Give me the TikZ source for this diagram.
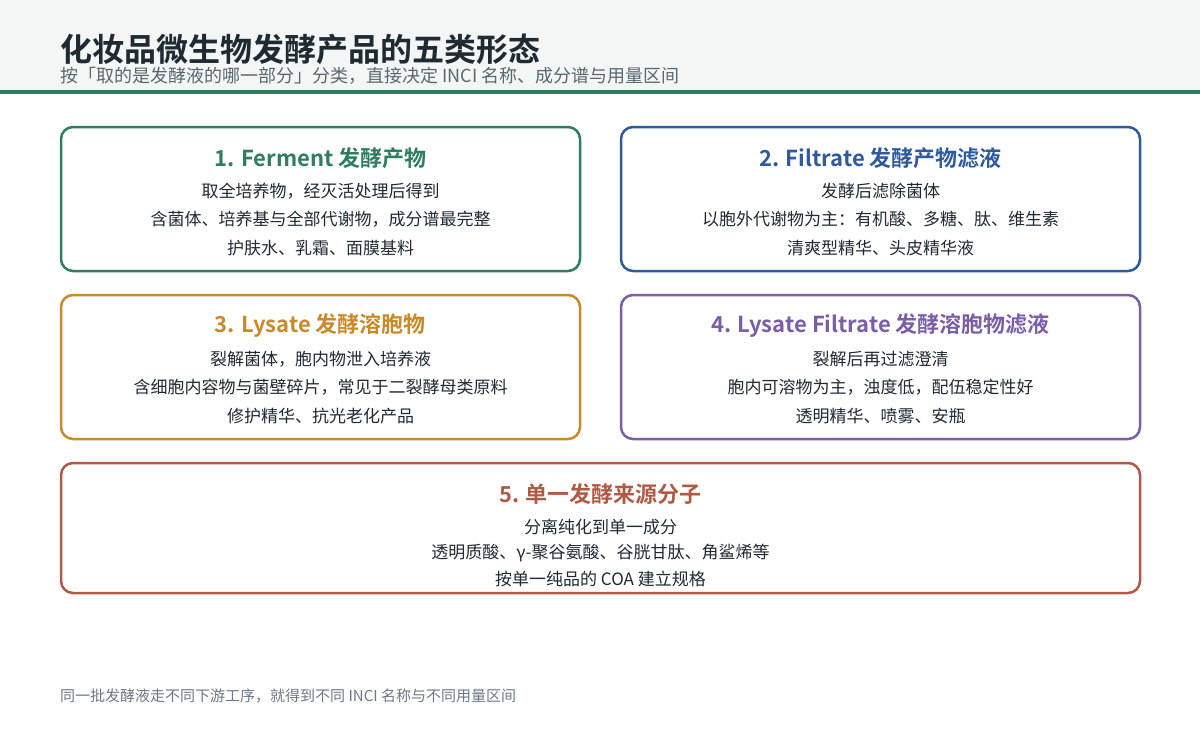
\documentclass[tikz,border=0pt]{standalone}
\usepackage{fontspec}
\setmainfont{Noto Sans CJK SC}
\newfontfamily\cjkbold{Noto Sans CJK SC Bold}
\definecolor{headbg}{HTML}{F3F6F5}
\definecolor{cgreen}{HTML}{2E7D64}
\definecolor{cblue}{HTML}{2F5A9E}
\definecolor{corange}{HTML}{C98A2A}
\definecolor{cpurple}{HTML}{7B5EA7}
\definecolor{cred}{HTML}{B05A45}
\definecolor{ink}{HTML}{1F2A33}
\definecolor{subgray}{HTML}{5A6670}
\definecolor{footgray}{HTML}{6B7785}

\begin{document}
\begin{tikzpicture}[x=1pt, y=-1pt,
    card/.style={draw=#1, line width=2.5pt, rounded corners=12pt, fill=white, minimum height=144pt, minimum width=519pt, inner sep=0pt},
    cardtitle/.style={text=#1, font=\cjkbold\fontsize{22}{26}\selectfont, inner sep=0pt},
    cardline/.style={text=ink, font=\fontsize{17}{20}\selectfont, inner sep=0pt}]
    \useasboundingbox (0,0) rectangle (1200,734);
    \fill[headbg] (0,0) rectangle (1200,90);
    \fill[cgreen] (0,90) rectangle (1200,94);
    \node[anchor=base west, inner sep=0pt, text=ink, font=\cjkbold\fontsize{32}{36}\selectfont] (title) at (60,61) {化妆品微生物发酵产品的五类形态};
    \node[anchor=base west, inner sep=0pt, text=subgray, font=\fontsize{18}{21}\selectfont] (subtitle) at (60,82) {按「取的是发酵液的哪一部分」分类，直接决定 INCI 名称、成分谱与用量区间};

    % 1 ferment
    \node[card=cgreen] (ferment) at (320.5,199) {};
    \node[cardtitle=cgreen] (fermentT) at (320.5,158) {1. Ferment 发酵产物};
    \node[cardline] (fermentA) at (320.5,191) {取全培养物，经灭活处理后得到};
    \node[cardline] (fermentB) at (320.5,219) {含菌体、培养基与全部代谢物，成分谱最完整};
    \node[cardline] (fermentC) at (320.5,248) {护肤水、乳霜、面膜基料};

    % 2 filtrate
    \node[card=cblue] (filtrate) at (880.5,199) {};
    \node[cardtitle=cblue] (filtrateT) at (880.5,158) {2. Filtrate 发酵产物滤液};
    \node[cardline] (filtrateA) at (880.5,191) {发酵后滤除菌体};
    \node[cardline] (filtrateB) at (880.5,219) {以胞外代谢物为主：有机酸、多糖、肽、维生素};
    \node[cardline] (filtrateC) at (880.5,248) {清爽型精华、头皮精华液};

    % 3 lysate
    \node[card=corange] (lysate) at (320.5,367) {};
    \node[cardtitle=corange] (lysateT) at (320.5,326) {3. Lysate 发酵溶胞物};
    \node[cardline] (lysateA) at (320.5,359) {裂解菌体，胞内物泄入培养液};
    \node[cardline] (lysateB) at (320.5,387) {含细胞内容物与菌壁碎片，常见于二裂酵母类原料};
    \node[cardline] (lysateC) at (320.5,416) {修护精华、抗光老化产品};

    % 4 lysate filtrate
    \node[card=cpurple] (lysfilt) at (880.5,367) {};
    \node[cardtitle=cpurple] (lysfiltT) at (880.5,326) {4. Lysate Filtrate 发酵溶胞物滤液};
    \node[cardline] (lysfiltA) at (880.5,359) {裂解后再过滤澄清};
    \node[cardline] (lysfiltB) at (880.5,387) {胞内可溶物为主，浊度低，配伍稳定性好};
    \node[cardline] (lysfiltC) at (880.5,416) {透明精华、喷雾、安瓶};

    % 5 single molecule
    \node[card=cred, minimum width=1079pt, minimum height=130pt] (single) at (600.5,528) {};
    \node[cardtitle=cred] (singleT) at (600.5,494) {5. 单一发酵来源分子};
    \node[cardline] (singleA) at (600.5,527) {分离纯化到单一成分};
    \node[cardline] (singleB) at (600.5,553) {透明质酸、γ-聚谷氨酸、谷胱甘肽、角鲨烯等};
    \node[cardline] (singleC) at (600.5,579) {按单一纯品的 COA 建立规格};

    \node[anchor=base west, inner sep=0pt, text=footgray, font=\fontsize{15}{18}\selectfont] (footer) at (60,701) {同一批发酵液走不同下游工序，就得到不同 INCI 名称与不同用量区间};
\end{tikzpicture}
\end{document}
